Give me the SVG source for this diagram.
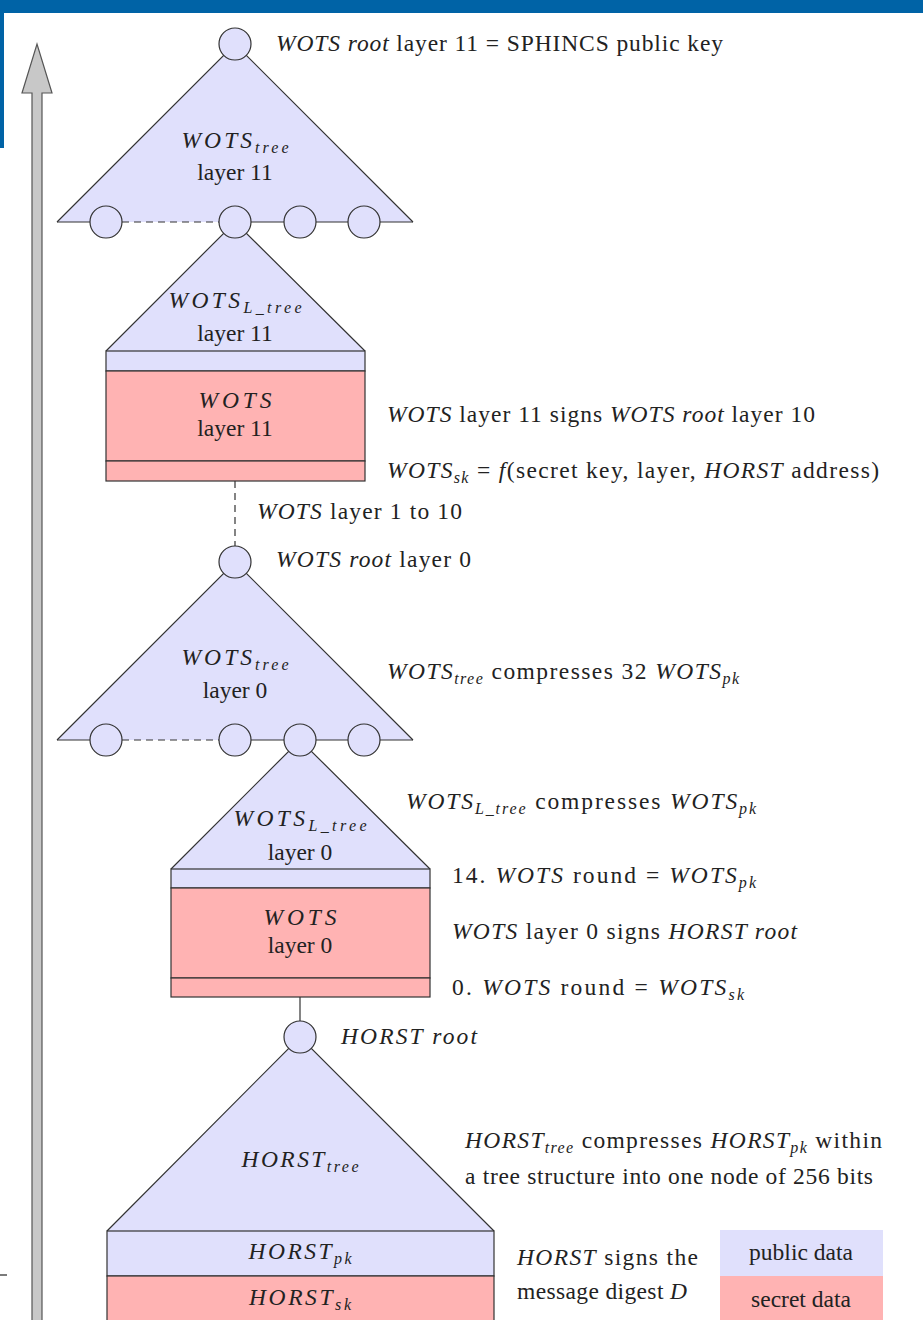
<svg xmlns="http://www.w3.org/2000/svg" width="923" height="1320" viewBox="0 0 923 1320">
<style>
text{font-family:"Liberation Serif","DejaVu Serif",serif;font-size:23.5px;fill:#222}
.m{font-style:italic}
.s{font-size:16px;font-style:italic}
.pub{fill:#e0e0fc}
.sec{fill:#ffb3b3}
.ln{stroke:#333;stroke-width:1.2;fill:none}
.dash{stroke:#333;stroke-width:1.2;fill:none;stroke-dasharray:7,5}
.nd{fill:#e0e0fc;stroke:#333;stroke-width:1.2}
.box{stroke:#333;stroke-width:1.2}
</style>
<rect x="0" y="0" width="923" height="1320" fill="#fff"/>
<g id="frame">
<rect x="0" y="0" width="923" height="13" fill="#0063a6"/>
<rect x="0" y="0" width="4" height="148" fill="#0063a6"/>
<line x1="0" y1="1275" x2="7" y2="1275" stroke="#222" stroke-width="1.2"/>
</g>
<g id="arrow">
<path d="M32,1321 L32,93 L22,93 L37,44 L52,93 L42,93 L42,1321" fill="#c8c8c8" stroke="#555" stroke-width="1.2"/>
</g>
<g id="connectors">
<line class="dash" x1="235" y1="481" x2="235" y2="546"/>
<line class="ln" x1="300" y1="997" x2="300" y2="1021"/>
</g>
<g id="wots-tree-11">
<path d="M57,222 L235,44 L413,222 Z" class="pub"/>
<path d="M57,222 L235,44 L413,222" class="ln"/>
<line class="ln" x1="57" y1="222" x2="90" y2="222"/>
<line class="dash" x1="122" y1="222" x2="219" y2="222"/>
<line class="ln" x1="251" y1="222" x2="413" y2="222"/>
<text x="235" y="148" text-anchor="middle" textLength="107"><tspan class="m">WOTS</tspan><tspan class="s" dy="5">tree</tspan></text>
<text x="235" y="180" text-anchor="middle">layer 11</text>
</g>
<g id="wots-ltree-11">
<path d="M106,351 L235,222 L365,351 Z" class="pub"/>
<path d="M106,351 L235,222 L365,351" class="ln"/>
<rect class="pub box" x="106" y="351" width="259" height="20"/>
<rect class="sec box" x="106" y="371" width="259" height="90"/>
<rect class="sec box" x="106" y="461" width="259" height="20"/>
<text x="235" y="308" text-anchor="middle" textLength="133"><tspan class="m">WOTS</tspan><tspan class="s" dy="5">L_tree</tspan></text>
<text x="235" y="341" text-anchor="middle">layer 11</text>
<text x="235" y="408" text-anchor="middle" class="m" textLength="73">WOTS</text>
<text x="235" y="436" text-anchor="middle">layer 11</text>
</g>
<g id="nodes-11">
<circle class="nd" cx="235" cy="44" r="16"/>
<circle class="nd" cx="106" cy="222" r="16"/>
<circle class="nd" cx="235" cy="222" r="16"/>
<circle class="nd" cx="300" cy="222" r="16"/>
<circle class="nd" cx="364" cy="222" r="16"/>
</g>
<g id="wots-tree-0">
<path d="M57,740 L235,562 L413,740 Z" class="pub"/>
<path d="M57,740 L235,562 L413,740" class="ln"/>
<line class="ln" x1="57" y1="740" x2="90" y2="740"/>
<line class="dash" x1="122" y1="740" x2="219" y2="740"/>
<line class="ln" x1="251" y1="740" x2="413" y2="740"/>
<text x="235" y="665" text-anchor="middle" textLength="107"><tspan class="m">WOTS</tspan><tspan class="s" dy="5">tree</tspan></text>
<text x="235" y="698" text-anchor="middle">layer 0</text>
</g>
<g id="wots-ltree-0">
<path d="M171,869 L300,740 L430,869 Z" class="pub"/>
<path d="M171,869 L300,740 L430,869" class="ln"/>
<rect class="pub box" x="171" y="869" width="259" height="19"/>
<rect class="sec box" x="171" y="888" width="259" height="90"/>
<rect class="sec box" x="171" y="978" width="259" height="19"/>
<text x="300" y="826" text-anchor="middle" textLength="133"><tspan class="m">WOTS</tspan><tspan class="s" dy="5">L_tree</tspan></text>
<text x="300" y="860" text-anchor="middle">layer 0</text>
<text x="300" y="925" text-anchor="middle" class="m" textLength="73">WOTS</text>
<text x="300" y="953" text-anchor="middle">layer 0</text>
</g>
<g id="nodes-0">
<circle class="nd" cx="235" cy="562" r="16"/>
<circle class="nd" cx="106" cy="740" r="16"/>
<circle class="nd" cx="235" cy="740" r="16"/>
<circle class="nd" cx="300" cy="740" r="16"/>
<circle class="nd" cx="364" cy="740" r="16"/>
</g>
<g id="horst-tree">
<path d="M107,1231 L300,1037 L494,1231 Z" class="pub"/>
<path d="M107,1231 L300,1037 L494,1231" class="ln"/>
<rect class="pub box" x="107" y="1231" width="387" height="45"/>
<rect class="sec box" x="107" y="1276" width="387" height="50"/>
<circle class="nd" cx="300" cy="1037" r="16"/>
<text x="300" y="1167" text-anchor="middle" textLength="117"><tspan class="m">HORST</tspan><tspan class="s" dy="5">tree</tspan></text>
<text x="300" y="1259" text-anchor="middle" textLength="103"><tspan class="m">HORST</tspan><tspan class="s" dy="5">pk</tspan></text>
<text x="300" y="1305" text-anchor="middle" textLength="102"><tspan class="m">HORST</tspan><tspan class="s" dy="5">sk</tspan></text>
</g>
<g id="legend">
<rect class="pub" x="720" y="1230" width="163" height="46"/>
<rect class="sec" x="720" y="1276" width="163" height="44"/>
<text x="801" y="1260" text-anchor="middle">public data</text>
<text x="801" y="1307" text-anchor="middle">secret data</text>
</g>
<g id="labels">
<text x="276" y="51" textLength="447"><tspan class="m">WOTS root</tspan> layer 11 = SPHINCS public key</text>
<text x="387" y="422" textLength="428"><tspan class="m">WOTS</tspan> layer 11 signs <tspan class="m">WOTS root</tspan> layer 10</text>
<text x="387" y="478" textLength="492"><tspan class="m">WOTS</tspan><tspan class="s" dy="5">sk</tspan><tspan dy="-5"> = </tspan><tspan class="m">f</tspan>(secret key, layer, <tspan class="m">HORST</tspan> address)</text>
<text x="257" y="519" textLength="205"><tspan class="m">WOTS</tspan> layer 1 to 10</text>
<text x="276" y="567" textLength="195"><tspan class="m">WOTS root</tspan> layer 0</text>
<text x="387" y="679" textLength="352"><tspan class="m">WOTS</tspan><tspan class="s" dy="5">tree</tspan><tspan dy="-5"> compresses 32 </tspan><tspan class="m">WOTS</tspan><tspan class="s" dy="5">pk</tspan></text>
<text x="406" y="809" textLength="350"><tspan class="m">WOTS</tspan><tspan class="s" dy="5">L_tree</tspan><tspan dy="-5"> compresses </tspan><tspan class="m">WOTS</tspan><tspan class="s" dy="5">pk</tspan></text>
<text x="452" y="883" textLength="304">14. <tspan class="m">WOTS</tspan> round = <tspan class="m">WOTS</tspan><tspan class="s" dy="5">pk</tspan></text>
<text x="452" y="939" textLength="345"><tspan class="m">WOTS</tspan> layer 0 signs <tspan class="m">HORST root</tspan></text>
<text x="452" y="995" textLength="292">0. <tspan class="m">WOTS</tspan> round = <tspan class="m">WOTS</tspan><tspan class="s" dy="5">sk</tspan></text>
<text x="341" y="1044" textLength="136" class="m">HORST root</text>
<text x="465" y="1148" textLength="417"><tspan class="m">HORST</tspan><tspan class="s" dy="5">tree</tspan><tspan dy="-5"> compresses </tspan><tspan class="m">HORST</tspan><tspan class="s" dy="5">pk</tspan><tspan dy="-5"> within</tspan></text>
<text x="465" y="1184" textLength="408">a tree structure into one node of 256 bits</text>
<text x="517" y="1265" textLength="181"><tspan class="m">HORST</tspan> signs the</text>
<text x="517" y="1299" textLength="170">message digest <tspan class="m">D</tspan></text>
</g>
</svg>
